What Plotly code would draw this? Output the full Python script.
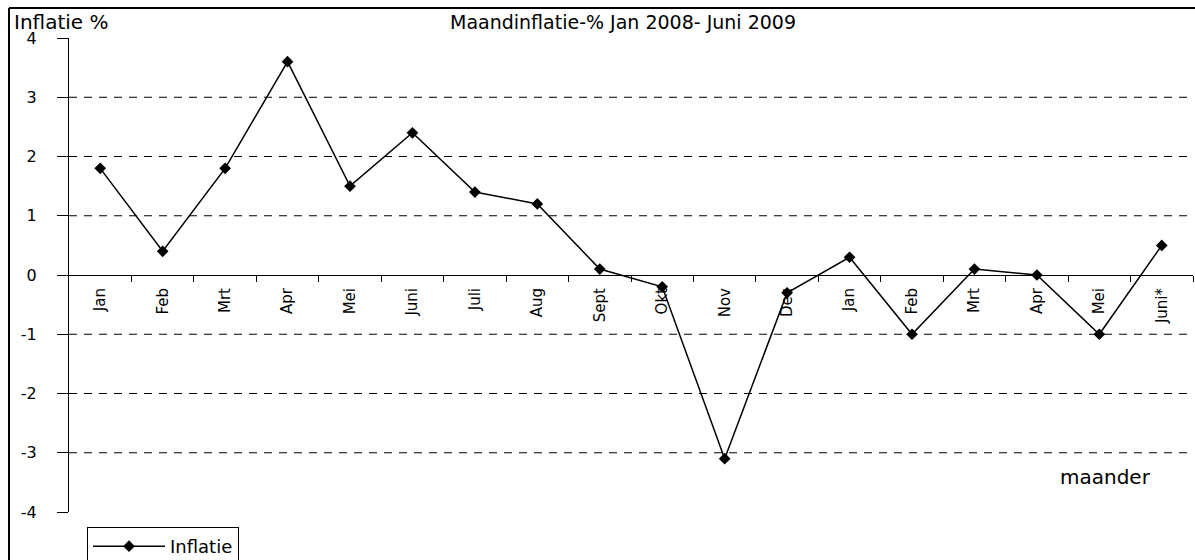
import plotly.graph_objects as go

months = ["Jan", "Feb", "Mrt", "Apr", "Mei", "Juni", "Juli", "Aug", "Sept", "Okt",
          "Nov", "Dec", "Jan", "Feb", "Mrt", "Apr", "Mei", "Juni*"]
inflatie = [1.8, 0.4, 1.8, 3.6, 1.5, 2.4, 1.4, 1.2, 0.1, -0.2,
            -3.1, -0.3, 0.3, -1.0, 0.1, 0.0, -1.0, 0.5]
y_ticks = [-4, -3, -2, -1, 0, 1, 2, 3, 4]
y_tick_labels = ["-4", "-3", "-2", "-1", "0", "1", "2", "3", "4"]
grid_vals = [-3, -2, -1, 1, 2, 3]

W, H = 1195, 560
ML, MR, MT, MB = 69, 2, 38, 48
PW, PH = W - ML - MR, H - MT - MB

def px(xp):
    return (xp - ML) / PW

def py(yp):
    return (H - MB - yp) / PH

x = list(range(len(months)))
FONT = "DejaVu Sans"

fig = go.Figure()
fig.add_trace(go.Scatter(
    x=x, y=inflatie, mode="lines+markers", name="Inflatie",
    line=dict(color="black", width=1.5),
    marker=dict(symbol="diamond", size=9, color="black"),
))

shapes = []
for g in grid_vals:
    shapes.append(dict(type="line", xref="paper", yref="y", x0=0, x1=1, y0=g, y1=g,
                       line=dict(color="black", width=1, dash="8px,7px"), layer="below"))
# outer chart frame (top and left edges visible in the crop)
shapes.append(dict(type="line", xref="paper", yref="paper", x0=px(9), x1=px(W + 5),
                   y0=py(8), y1=py(8), line=dict(color="black", width=2)))
shapes.append(dict(type="line", xref="paper", yref="paper", x0=px(9), x1=px(9),
                   y0=py(8), y1=py(H + 5), line=dict(color="black", width=2)))

fig.update_layout(
    width=W, height=H,
    margin=dict(l=ML, r=MR, t=MT, b=MB, autoexpand=False),
    paper_bgcolor="white", plot_bgcolor="white",
    font=dict(family=FONT, color="black", size=14),
    shapes=shapes,
    showlegend=True,
    legend=dict(x=px(87), y=py(527), xanchor="left", yanchor="top",
                bordercolor="black", borderwidth=1, bgcolor="white",
                font=dict(size=18, family=FONT), itemwidth=72,
                tracegroupgap=0),
    xaxis=dict(
        range=[-0.5, len(months) - 0.5],
        tickmode="array", tickvals=x, ticktext=months,
        tickangle=-90, ticks="", showgrid=False, zeroline=False,
        showline=True, linecolor="black", linewidth=1,
        anchor="free", position=0.5,
        tickfont=dict(size=15, family=FONT),
        minor=dict(tickmode="array", tickvals=[i + 0.5 for i in x],
                   ticks="outside", ticklen=6, tickcolor="black", showgrid=False),
        ticklabelstandoff=6,
    ),
    yaxis=dict(
        range=[-4, 4], tickmode="array", tickvals=y_ticks, ticktext=y_tick_labels,
        ticks="outside", ticklen=11, tickcolor="black",
        showline=True, linecolor="black", linewidth=1,
        showgrid=False, zeroline=False,
        tickfont=dict(size=16, family=FONT),
        ticklabelstandoff=17,
    ),
    annotations=[
        dict(text="Maandinflatie-% Jan 2008- Juni 2009", xref="paper", yref="paper",
             x=px(623), y=py(22), showarrow=False, xanchor="center", yanchor="middle",
             font=dict(size=19, family=FONT)),
        dict(text="Inflatie %", xref="paper", yref="paper",
             x=px(12), y=py(22), showarrow=False, xanchor="left", yanchor="middle",
             font=dict(size=20, family=FONT)),
        dict(text="maander", xref="paper", yref="paper",
             x=px(1105), y=py(477), showarrow=False, xanchor="center", yanchor="middle",
             font=dict(size=20, family=FONT)),
    ],
)

fig.write_html("out.html", config={"displayModeBar": False},
               post_script="document.body.style.margin='0';")
